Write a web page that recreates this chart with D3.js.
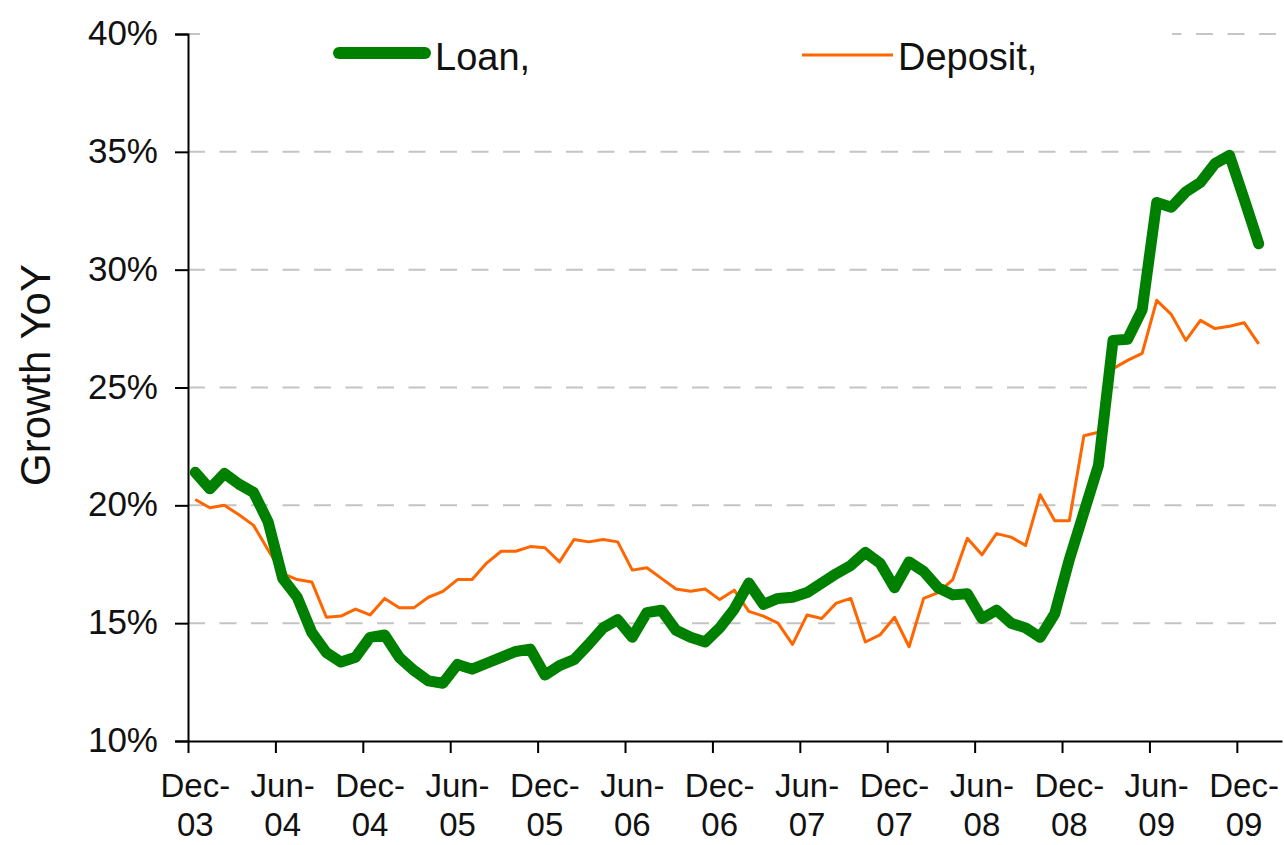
<!DOCTYPE html>
<html>
<head>
<meta charset="utf-8">
<script src="https://cdn.jsdelivr.net/npm/d3@7"></script>
<style>
  body { margin: 0; background: #fff; }
  svg { display: block; font-family: "Liberation Sans", Arial, sans-serif; }
  .grid line { stroke: #c4c4c4; stroke-width: 2; stroke-dasharray: 17 14.5; }
  .axis path, .axis line { stroke: #000; stroke-width: 2; }
</style>
</head>
<body>
<svg></svg>
<script>
// monthly YoY growth (%), Dec-03 .. Jan-10
const loan = [
  21.4, 20.7, 21.35, 20.9, 20.55, 19.3, 16.9, 16.1, 14.6, 13.75,
  13.35, 13.55, 14.4, 14.5, 13.55, 13.0, 12.55, 12.45, 13.25, 13.05,
  13.3, 13.55, 13.8, 13.9, 12.8, 13.2, 13.45, 14.1, 14.8, 15.15,
  14.4, 15.45, 15.55, 14.7, 14.4, 14.2, 14.8, 15.6, 16.7, 15.8,
  16.05, 16.1, 16.3, 16.7, 17.1, 17.45, 18.0, 17.55, 16.5, 17.6,
  17.2, 16.5, 16.2, 16.25, 15.2, 15.55, 15.0, 14.8, 14.4, 15.4,
  17.7, 19.7, 21.7, 27.0, 27.05, 28.3, 32.85, 32.65, 33.3, 33.7,
  34.5, 34.85, 33.0, 31.1
];
const deposit = [
  20.25, 19.9, 20.0, 19.6, 19.15, 18.1, 17.1, 16.85, 16.75, 15.25,
  15.3, 15.6, 15.35, 16.05, 15.65, 15.65, 16.1, 16.35, 16.85, 16.85,
  17.55, 18.05, 18.05, 18.25, 18.2, 17.6, 18.55, 18.45, 18.55, 18.45,
  17.25, 17.35, 16.9, 16.45, 16.35, 16.45, 16.0, 16.4, 15.5, 15.3,
  15.0, 14.1, 15.35, 15.2, 15.85, 16.05, 14.2, 14.5, 15.25, 14.0,
  16.05, 16.3, 16.85, 18.6, 17.9, 18.8, 18.65, 18.3, 20.45, 19.35,
  19.35, 22.95, 23.1, 25.8, 26.15, 26.45, 28.7, 28.1, 27.0, 27.85,
  27.5, 27.6, 27.75, 26.85
];
const tickLabels = ["Dec-03", "Jun-04", "Dec-04", "Jun-05", "Dec-05", "Jun-06", "Dec-06",
  "Jun-07", "Dec-07", "Jun-08", "Dec-08", "Jun-09", "Dec-09"];
const yTicks = [10, 15, 20, 25, 30, 35, 40];

const margin = { top: 34, right: 2, bottom: 104, left: 188 };
const W = 1284, H = 845;
const width = W - margin.left - margin.right;
const height = H - margin.top - margin.bottom;

const svg = d3.select("svg")
  .attr("width", W)
  .attr("height", H)
  .append("g")
  .attr("transform", `translate(${margin.left},${margin.top})`);

// x in months since Dec-03; each point sits in the middle of its month
const x = d3.scaleLinear().domain([0, 75.1]).range([0, width]);
const y = d3.scaleLinear().domain([10, 40]).range([height, 0]);

svg.append("g")
  .attr("class", "grid")
  .selectAll("line")
  .data(yTicks.slice(1))
  .join("line")
  .attr("x1", 0)
  .attr("x2", width)
  .attr("y1", d => y(d))
  .attr("y2", d => y(d));

// legend box hides the top gridline, as in the original
const legend = svg.append("g");
legend.append("rect")
  .attr("x", 12).attr("y", -20)
  .attr("width", 972).attr("height", 76)
  .attr("fill", "#fff");

const yAxis = svg.append("g")
  .attr("class", "axis")
  .call(d3.axisLeft(y).tickValues(yTicks).tickSize(13).tickPadding(17).tickFormat(d => d + "%"));
yAxis.selectAll("text")
  .attr("font-size", 35)
  .attr("font-family", "Liberation Sans, Arial, sans-serif")
  .attr("fill", "#111")
  .attr("dy", "0.3em");

const monthTicks = d3.range(tickLabels.length).map(i => i * 6);
const xAxis = svg.append("g")
  .attr("class", "axis")
  .attr("transform", `translate(0,${height})`)
  .call(d3.axisBottom(x).tickValues(monthTicks).tickSize(12).tickSizeOuter(0).tickFormat(""));

const xLabels = xAxis.selectAll(".xlab")
  .data(tickLabels)
  .join("text")
  .attr("class", "xlab")
  .attr("text-anchor", "middle")
  .attr("font-size", 33)
  .attr("fill", "#111")
  .attr("x", (d, i) => x(monthTicks[i] + 0.5));
xLabels.append("tspan").attr("y", 56).text(d => d.split("-")[0] + "-");
xLabels.append("tspan").attr("y", 95).attr("x", (d, i) => x(monthTicks[i] + 0.5)).text(d => d.split("-")[1]);

svg.append("text")
  .attr("text-anchor", "middle")
  .attr("transform", `translate(${50 - margin.left},${375 - margin.top}) rotate(-90)`)
  .attr("font-size", 42)
  .attr("fill", "#111")
  .text("Growth YoY");

const line = d3.line()
  .x((d, i) => x(i + 0.5))
  .y(d => y(d));

svg.append("path")
  .attr("fill", "none")
  .attr("stroke", "#ff6600")
  .attr("stroke-width", 3)
  .attr("stroke-linejoin", "round")
  .attr("d", line(deposit));

svg.append("path")
  .attr("fill", "none")
  .attr("stroke", "#008000")
  .attr("stroke-width", 11)
  .attr("stroke-linejoin", "round")
  .attr("stroke-linecap", "round")
  .attr("d", line(loan));

legend.append("line")
  .attr("x1", 339 - margin.left).attr("x2", 425 - margin.left)
  .attr("y1", 53 - margin.top).attr("y2", 53 - margin.top)
  .attr("stroke", "#008000").attr("stroke-width", 12).attr("stroke-linecap", "round");
legend.append("text")
  .attr("x", 435 - margin.left).attr("y", 70 - margin.top)
  .attr("font-size", 38).attr("fill", "#111")
  .text("Loan,");

legend.append("line")
  .attr("x1", 802 - margin.left).attr("x2", 893 - margin.left)
  .attr("y1", 55 - margin.top).attr("y2", 55 - margin.top)
  .attr("stroke", "#ff6600").attr("stroke-width", 3);
legend.append("text")
  .attr("x", 898 - margin.left).attr("y", 70 - margin.top)
  .attr("font-size", 38).attr("fill", "#111")
  .text("Deposit,");
</script>
</body>
</html>
